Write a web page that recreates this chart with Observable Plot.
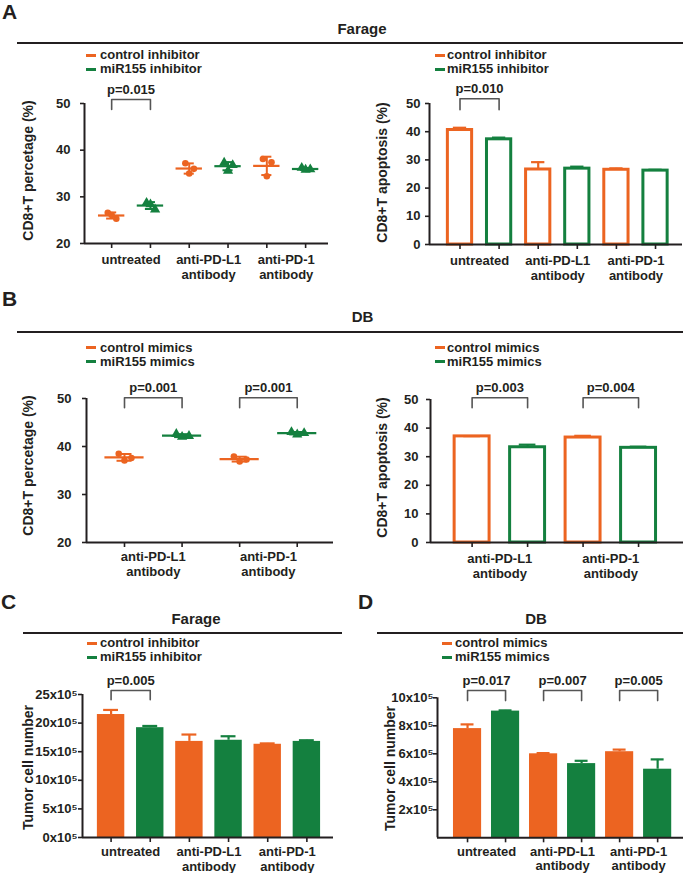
<!DOCTYPE html>
<html><head><meta charset="utf-8">
<script src="https://cdn.jsdelivr.net/npm/d3@7"></script>
<script src="https://cdn.jsdelivr.net/npm/@observablehq/plot@0.6"></script>
<style>
body{margin:0;background:#fff;}
#fig{position:relative;width:685px;height:873px;font-family:"Liberation Sans",Arial,sans-serif;font-weight:bold;color:#231f20;overflow:hidden;background:#fff}
.t{position:absolute;white-space:nowrap;line-height:1}
.hline{position:absolute;height:2px;background:#231f20}
.dash{position:absolute;width:10px;height:3px}
</style></head><body><div id="fig"></div>
<script>
// ---------------- data ----------------
const inhibitorSeries = ["control inhibitor", "miR155 inhibitor"];
const mimicSeries = ["control mimics", "miR155 mimics"];
const groups3 = ["untreated", "anti-PD-L1\nantibody", "anti-PD-1\nantibody"];
const groups2 = ["anti-PD-L1\nantibody", "anti-PD-1\nantibody"];

// A left: CD8+T percentage (%), Farage, replicates per group
const aPctControl = [[26.6, 25.3, 26.1], [37.2, 36.0, 35.0], [38.1, 37.4, 34.4]];
const aPctMiR = [[28.7, 27.3, 28.4], [37.3, 36.8, 35.6], [36.2, 35.9, 35.8]];
const aPctP = ["p=0.015"];
// A right: CD8+T apoptosis (%), Farage
const aApoControl = [40.6, 26.6, 26.5];
const aApoControlSD = [0.8, 2.6, 0.5];
const aApoMiR = [37.3, 26.9, 26.2];
const aApoMiRSD = [0.6, 0.7, 0.3];
const aApoP = ["p=0.010"];
// B left: CD8+T percentage (%), DB
const bPctControl = [[38.5, 37.6, 37.1], [37.9, 37.3, 36.9]];
const bPctMiR = [[42.6, 42.2, 42.0], [43.0, 42.8, 42.5]];
const bPctP = ["p=0.001", "p=0.001"];
// B right: CD8+T apoptosis (%), DB
const bApoControl = [37.1, 36.7];
const bApoControlSD = [0.1, 0.6];
const bApoMiR = [33.3, 33.1];
const bApoMiRSD = [0.9, 0.4];
const bApoP = ["p=0.003", "p=0.004"];
// C: Tumor cell number (x10^5), Farage
const cCellsControl = [21.5, 16.8, 16.3];
const cCellsControlSD = [0.8, 1.2, 0.15];
const cCellsMiR = [19.2, 17.0, 16.8];
const cCellsMiRSD = [0.3, 0.7, 0.2];
const cCellsP = ["p=0.005"];
// D: Tumor cell number (x10^5), DB
const dCellsControl = [7.8, 6.0, 6.15];
const dCellsControlSD = [0.3, 0.05, 0.15];
const dCellsMiR = [9.05, 5.3, 4.9];
const dCellsMiRSD = [0.05, 0.2, 0.7];
const dCellsP = ["p=0.017", "p=0.007", "p=0.005"];

const pctTicks = [20, 30, 40, 50];
const apoTicks = [0, 10, 20, 30, 40, 50];
const cTicks = [0, 5, 10, 15, 20, 25];
const dTicks = [2, 4, 6, 8, 10];
const jitter = [-0.1, 0.12, 0];

// ---------------- style ----------------
const ORANGE = "#EC6421", GREEN = "#14803F", INK = "#231f20", BRACKET = "#555";
const FONT = '"Liberation Sans", Arial, sans-serif';
const fig = document.getElementById("fig");

function htmlText(str, x, baseline, size, align) {
  const d = document.createElement("div");
  d.className = "t";
  d.textContent = str;
  d.style.fontSize = size + "px";
  d.style.top = (baseline - 0.8465 * size) + "px";
  d.style.left = x + "px";
  if (align === "center") d.style.transform = "translateX(-50%)";
  fig.appendChild(d);
}
function hline(x1, x2, y) {
  const d = document.createElement("div");
  d.className = "hline";
  d.style.left = x1 + "px"; d.style.width = (x2 - x1) + "px"; d.style.top = (y - 1) + "px";
  fig.appendChild(d);
}
function legend(series, dashX, textX, baseline) {
  series.forEach((s, k) => {
    const b = baseline + k * 14;
    const d = document.createElement("div");
    d.className = "dash";
    d.style.left = dashX + "px"; d.style.top = (b - 5.5) + "px";
    d.style.background = k === 0 ? ORANGE : GREEN;
    fig.appendChild(d);
    htmlText(s, textX, b, 13);
  });
}

function scatterMarks(pts, s, color, symbol) {
  const dots = pts.flatMap((reps, g) => reps.map((v, k) => ({i: 2 * g + s + jitter[k], v})));
  const stats = pts.map((reps, g) => ({i: 2 * g + s, mean: d3.mean(reps), sd: d3.deviation(reps)}));
  return [
    Plot.ruleX(stats, {x: "i", y1: d => d.mean - d.sd, y2: d => d.mean + d.sd, stroke: color, strokeWidth: 2}),
    Plot.ruleY(stats, {y: d => d.mean + d.sd, x1: d => d.i - 0.13, x2: d => d.i + 0.13, stroke: color, strokeWidth: 2}),
    Plot.ruleY(stats, {y: d => d.mean - d.sd, x1: d => d.i - 0.13, x2: d => d.i + 0.13, stroke: color, strokeWidth: 2}),
    Plot.ruleY(stats, {y: "mean", x1: d => d.i - 0.34, x2: d => d.i + 0.34, stroke: color, strokeWidth: 2.2}),
    Plot.dot(dots, {x: "i", y: "v", r: symbol === "circle" ? 3.3 : 3.8, fill: color, stroke: "none", symbol})
  ];
}
function barMarks(values, sds, s, color, hw, capHw, filled) {
  const data = values.map((v, g) => ({i: 2 * g + s, v, sd: sds[g]}));
  return [
    Plot.rect(data, {x1: d => d.i - hw, x2: d => d.i + hw, y1: 0, y2: "v",
      fill: filled ? color : "white", stroke: filled ? "none" : color, strokeWidth: filled ? 0 : 3}),
    Plot.ruleX(data, {x: "i", y1: "v", y2: d => d.v + d.sd, stroke: color, strokeWidth: 2.2}),
    Plot.ruleY(data, {y: d => d.v + d.sd, x1: d => d.i - capHw, x2: d => d.i + capHw, stroke: color, strokeWidth: 2.2})
  ];
}
function bracketMarks(pvals, positions, yTop, yBot) {
  const path = pvals.flatMap((p, k) => {
    const i = positions[k];
    return [{k, x: i, y: yBot}, {k, x: i, y: yTop}, {k, x: i + 1, y: yTop}, {k, x: i + 1, y: yBot}];
  });
  return [
    Plot.line(path, {x: "x", y: "y", z: "k", stroke: BRACKET, strokeWidth: 1.6, curve: "linear"}),
    Plot.text(pvals, {x: (d, k) => positions[k] + 0.5, y: yTop, text: d => d, dy: -10, lineAnchor: "middle",
      textAnchor: "middle", fontSize: 13, fontWeight: "bold", fill: INK})
  ];
}

function makePanel(cfg) {
  const {left, top, width, height, axisX, axisRight, yTopPx, yBotPx, yDomain, xDomain} = cfg;
  const marginLeft = axisX - left, marginRight = left + width - axisRight;
  const marginTop = yTopPx - top, marginBottom = top + height - yBotPx;
  const [x0, x1] = xDomain, [y0, y1] = yDomain;
  const nCats = cfg.groups.length * 2;
  const marks = [
    ...cfg.marks,
    Plot.ruleX([x0], {y1: y0, y2: y1, stroke: INK, strokeWidth: 2}),
    Plot.ruleY([y0], {x1: x0, x2: x1, stroke: INK, strokeWidth: 2}),
    Plot.axisY({ticks: cfg.yTicks, tickFormat: cfg.yFormat || (d => d), tickSize: 4, tickPadding: cfg.tickPadding,
      strokeWidth: 1.6, stroke: INK, fill: INK, fontSize: 13, fontWeight: "bold", label: null}),
    Plot.axisX({ticks: d3.range(nCats), tickFormat: () => "", tickSize: 5, strokeWidth: 1.6, stroke: INK, label: null}),
    Plot.text(cfg.groups, {x: (d, i) => 2 * i + 0.5, text: d => d, frameAnchor: "bottom", lineAnchor: "top",
      textAnchor: "middle", dy: cfg.groupDy, fontSize: 13, fontWeight: "bold", lineHeight: cfg.lineHeight || 1.2, fill: INK}),
    Plot.text([cfg.yTitle], {text: d => d, frameAnchor: "left", rotate: -90, textAnchor: "middle", lineAnchor: "middle",
      dx: cfg.titleX - axisX, dy: cfg.titleY - (yTopPx + yBotPx) / 2, fontSize: cfg.titleSize || 14, fontWeight: "bold", fill: INK}),
    ...cfg.brackets
  ];
  const svg = Plot.plot({
    width, height, marginLeft, marginRight, marginTop, marginBottom,
    x: {type: "linear", domain: xDomain},
    y: {type: "linear", domain: yDomain},
    style: {background: "none", overflow: "visible", maxWidth: "none", fontFamily: FONT, fontWeight: "bold", color: INK, fontSize: "13px"},
    marks
  });
  svg.style.position = "absolute";
  svg.style.left = left + "px";
  svg.style.top = top + "px";
  fig.appendChild(svg);
}

// ---------------- headers ----------------
htmlText("A", 2, 18.3, 21);
htmlText("Farage", 362, 33.3, 15, "center");
hline(17, 683, 42.7);
legend(inhibitorSeries, 86, 100, 59.3);
legend(inhibitorSeries, 435, 447, 59.3);

htmlText("B", 2, 306, 21);
htmlText("DB", 362.5, 321.7, 15, "center");
hline(17, 683, 331.7);
legend(mimicSeries, 86, 100, 351.7);
legend(mimicSeries, 435, 447, 351.7);

htmlText("C", 1, 608.3, 21);
htmlText("Farage", 196, 623.3, 15, "center");
hline(23, 342, 632.7);
legend(inhibitorSeries, 87, 100, 647.3);

htmlText("D", 358, 609, 21);
htmlText("DB", 536, 623.3, 15, "center");
hline(377, 683, 632.7);
legend(mimicSeries, 442, 455, 647.3);

// ---------------- panels ----------------
makePanel({left: 0, top: 75, width: 340, height: 215, axisX: 84, axisRight: 328, yTopPx: 103, yBotPx: 243,
  yDomain: [20, 50], yTicks: pctTicks, xDomain: [-0.70, 5.59], tickPadding: 10, titleX: 28, titleY: 170, groupDy: 9,
  groups: groups3, yTitle: "CD8+T percetage (%)",
  marks: [...scatterMarks(aPctControl, 0, ORANGE, "circle"), ...scatterMarks(aPctMiR, 1, GREEN, "triangle")],
  brackets: bracketMarks(aPctP, [0], 50.86, 48.71)});

makePanel({left: 340, top: 75, width: 345, height: 215, axisX: 429, axisRight: 682, yTopPx: 103, yBotPx: 244,
  yDomain: [0, 50], yTicks: apoTicks, xDomain: [-0.78, 5.69], tickPadding: 5, titleX: 382, titleY: 172, groupDy: 9,
  groups: groups3, yTitle: "CD8+T apoptosis (%)",
  marks: [...barMarks(aApoControl, aApoControlSD, 0, ORANGE, 0.31, 0.17, false), ...barMarks(aApoMiR, aApoMiRSD, 1, GREEN, 0.31, 0.17, false)],
  brackets: bracketMarks(aApoP, [0], 51.67, 47.8)});

makePanel({left: 0, top: 370, width: 340, height: 220, axisX: 86, axisRight: 333, yTopPx: 398, yBotPx: 542,
  yDomain: [20, 50], yTicks: pctTicks, xDomain: [-0.66, 3.63], tickPadding: 11, titleX: 28, titleY: 465, groupDy: 7,
  groups: groups2, yTitle: "CD8+T percetage (%)",
  marks: [...scatterMarks(bPctControl, 0, ORANGE, "circle"), ...scatterMarks(bPctMiR, 1, GREEN, "triangle")],
  brackets: bracketMarks(bPctP, [0, 2], 50.15, 48.06)});

makePanel({left: 340, top: 370, width: 345, height: 220, axisX: 430, axisRight: 683, yTopPx: 399, yBotPx: 542,
  yDomain: [0, 50], yTicks: apoTicks, xDomain: [-0.75, 3.81], tickPadding: 8, titleX: 382, titleY: 467, groupDy: 9,
  groups: groups2, yTitle: "CD8+T apoptosis (%)",
  marks: [...barMarks(bApoControl, bApoControlSD, 0, ORANGE, 0.315, 0.15, false), ...barMarks(bApoMiR, bApoMiRSD, 1, GREEN, 0.315, 0.15, false)],
  brackets: bracketMarks(bApoP, [0, 2], 50.6, 47.1)});

makePanel({left: 0, top: 665, width: 345, height: 208, axisX: 82, axisRight: 333, yTopPx: 694, yBotPx: 837,
  yDomain: [0, 25], yTicks: cTicks, yFormat: d => d + "x10\u2075", xDomain: [-0.73, 5.68], tickPadding: 1,
  titleX: 28, titleY: 767, groupDy: 9, lineHeight: 1.08, groups: groups3, yTitle: "Tumor cell number",
  marks: [...barMarks(cCellsControl, cCellsControlSD, 0, ORANGE, 0.35, 0.19, true), ...barMarks(cCellsMiR, cCellsMiRSD, 1, GREEN, 0.35, 0.19, true)],
  brackets: bracketMarks(cCellsP, [0], 25.7, 24.07)});

makePanel({left: 345, top: 665, width: 340, height: 208, axisX: 437, axisRight: 683, yTopPx: 697.3, yBotPx: 837.3,
  yDomain: [0, 10], yTicks: dTicks, yFormat: d => d + "x10\u2075", xDomain: [-0.79, 5.68], tickPadding: 0,
  titleX: 390, titleY: 768, groupDy: 8, lineHeight: 1.08, groups: groups3, yTitle: "Tumor cell number",
  marks: [...barMarks(dCellsControl, dCellsControlSD, 0, ORANGE, 0.37, 0.17, true), ...barMarks(dCellsMiR, dCellsMiRSD, 1, GREEN, 0.37, 0.17, true)],
  brackets: bracketMarks(dCellsP, [0, 2, 4], 10.52, 9.8)});
</script></body></html>
